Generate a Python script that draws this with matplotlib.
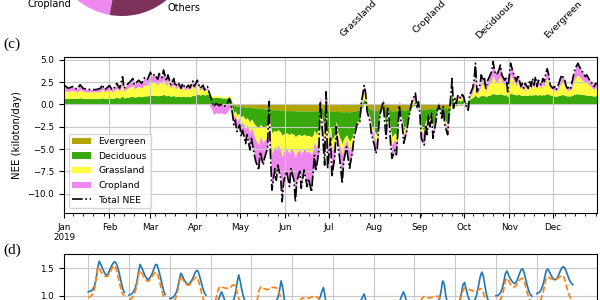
import numpy as np
import matplotlib
matplotlib.use("Agg")
import matplotlib.pyplot as plt
import matplotlib.dates as mdates
from matplotlib.ticker import MultipleLocator, FuncFormatter

# ---------------- panel (c): daily NEE 2019 (day 0 = 1 Jan), kiloton/day ----------------
days = [0, 3, 6, 9, 11, 13, 15, 19, 22, 25,
        26, 28, 31, 33, 35, 36, 38, 40, 41, 43,
        45, 47, 48, 51, 53, 55, 57, 59, 60, 62,
        64, 65, 67, 68, 70, 71, 73, 75, 76, 78,
        80, 81, 83, 85, 86, 88, 89, 91, 93, 95,
        96, 98, 99, 101, 102, 104, 106, 107, 109, 111,
        113, 114, 115, 116, 117, 118, 120, 121, 122, 124,
        125, 127, 128, 130, 131, 133, 134, 136, 137, 139,
        140, 141, 142, 144, 145, 146, 148, 149, 150, 152,
        154, 155, 157, 158, 159, 161, 162, 164, 166, 167,
        169, 170, 171, 172, 174, 175, 176, 178, 179, 180,
        182, 183, 185, 186, 187, 188, 190, 191, 193, 194,
        195, 197, 198, 200, 202, 203, 205, 206, 207, 209,
        210, 212, 213, 214, 215, 216, 218, 219, 220, 221,
        222, 223, 224, 226, 227, 228, 229, 230, 231, 232,
        234, 235, 236, 237, 238, 240, 241, 242, 243, 244,
        246, 247, 248, 249, 250, 251, 252, 254, 255, 256,
        257, 258, 259, 260, 262, 263, 264, 265, 266, 267,
        268, 269, 271, 272, 273, 274, 276, 277, 278, 279,
        280, 281, 282, 284, 285, 286, 287, 288, 289, 290,
        292, 293, 294, 295, 296, 297, 298, 299, 301, 302,
        303, 304, 305, 306, 307, 309, 310, 311, 312, 313,
        314, 315, 317, 318, 319, 320, 321, 322, 323, 324,
        326, 327, 328, 329, 330, 331, 332, 334, 335, 336,
        337, 338, 339, 340, 342, 343, 344, 345, 346, 347,
        348, 349, 351, 352, 353, 354, 355, 356, 357, 359,
        360, 361, 362, 363, 364]

total_nee = [2.16, 1.8, 2.0, 1.7, 2.2, 1.8, 1.7, 1.65, 1.65, 1.8,
             2.2, 1.65, 2.1, 1.6, 2.0, 2.35, 1.8, 3.1, 1.8, 2.2,
             2.5, 2.9, 2.2, 2.7, 2.35, 3.0, 2.8, 3.6, 3.2, 3.35,
             2.8, 3.45, 3.0, 3.85, 2.6, 3.3, 2.2, 2.9, 2.0, 2.45,
             1.8, 2.35, 1.8, 2.15, 1.85, 2.6, 2.0, 2.7, 1.8, 2.15,
             1.6, 2.0, 1.4, 0.4, -0.25, 0.1, -0.15, 0.0, -0.25, -0.1,
             0.65, 0.0, -1.0, -2.3, -1.75, -3.05, -2.3, -3.6, -2.9, -4.4,
             -3.4, -5.1, -3.8, -5.7, -6.4, -7.35, -5.3, -6.8, -6.0, -4.9,
             0.3, -5.7, -9.6, -7.2, -8.5, -6.8, -8.3, -10.9, -8.65, -7.5,
             -9.2, -7.2, -8.5, -10.9, -8.65, -7.5, -9.4, -7.35, -9.2, -8.3,
             -9.8, -7.9, -5.7, -7.5, -5.3, 0.3, -1.95, -6.8, 1.4, -7.2,
             -3.8, -8.1, -5.7, -2.5, -4.55, -5.7, -8.85, -6.4, -4.75, -6.05,
             -7.15, -5.3, -3.8, -2.3, -1.95, 0.1, 2.1, 1.25, -0.8, -1.95,
             -3.4, -4.55, -5.5, -4.9, -2.3, -1.0, 0.3, -1.95, -3.8, -0.45,
             -1.55, -4.35, -6.05, -5.1, -5.65, -3.05, -0.1, -1.75, -2.3, -4.35,
             -3.05, -1.95, -1.0, -0.1, 0.5, 1.25, -0.45, 0.3, -1.0, -3.8,
             -4.55, -2.3, -3.4, -1.2, -2.5, -1.0, -3.8, -1.95, -0.65, -0.1,
             -0.8, -1.55, -0.25, -2.3, -3.4, -1.2, 0.65, 2.9, -0.45, 0.65,
             0.1, 1.05, 0.65, 1.1, 0.85, 0.1, -0.65, 1.05, 1.4, 1.8,
             2.55, 4.6, 1.4, 2.15, 3.3, 2.7, 3.1, 1.8, 2.55, 2.9,
             3.65, 4.8, 3.85, 3.3, 3.45, 3.85, 4.4, 3.3, 2.7, 3.1,
             1.4, 3.1, 4.6, 4.0, 3.45, 2.55, 3.3, 2.7, 2.0, 2.35,
             1.8, 2.35, 1.8, 2.7, 2.0, 2.9, 2.15, 3.1, 2.0, 2.7,
             2.15, 2.9, 2.55, 3.45, 4.0, 3.3, 2.15, 1.8, 2.0, 1.6,
             2.0, 2.35, 2.9, 3.3, 2.7, 2.0, 1.8, 2.0, 1.8, 2.55,
             3.3, 4.0, 4.6, 4.2, 4.0, 3.65, 3.45, 3.1, 3.3, 2.7,
             2.55, 2.15, 2.0, 2.35, 2.3]

evergreen = [0.05, 0.05, 0.05, 0.05, 0.05, 0.05, 0.05, 0.05, 0.05, 0.05,
             0.05, 0.05, 0.05, 0.05, 0.05, 0.05, 0.05, 0.05, 0.05, 0.05,
             0.05, 0.05, 0.05, 0.05, 0.05, 0.05, 0.05, 0.05, 0.05, 0.05,
             0.05, 0.05, 0.05, 0.05, 0.05, 0.05, 0.05, 0.05, 0.05, 0.05,
             0.05, 0.05, 0.05, 0.05, 0.05, 0.05, 0.05, 0.05, 0.05, 0.05,
             0.05, 0.05, 0.05, 0.0, 0.0, 0.0, 0.0, 0.0, 0.0, 0.0,
             0.0, 0.0, -0.1, -0.15, -0.15, -0.2, -0.2, -0.25, -0.25, -0.3,
             -0.3, -0.35, -0.35, -0.4, -0.4, -0.45, -0.45, -0.5, -0.5, -0.5,
             -0.2, -0.5, -0.6, -0.6, -0.6, -0.6, -0.65, -0.7, -0.7, -0.7,
             -0.7, -0.7, -0.7, -0.75, -0.75, -0.75, -0.75, -0.75, -0.75, -0.75,
             -0.75, -0.75, -0.7, -0.75, -0.7, -0.2, -0.4, -0.75, -0.1, -0.75,
             -0.7, -0.8, -0.8, -0.6, -0.8, -0.8, -0.85, -0.85, -0.8, -0.85,
             -0.85, -0.8, -0.8, -0.7, -0.6, -0.3, 0.0, 0.0, -0.3, -0.5,
             -0.6, -0.7, -0.7, -0.7, -0.6, -0.4, -0.2, -0.5, -0.7, -0.3,
             -0.5, -0.7, -0.75, -0.7, -0.75, -0.6, -0.3, -0.5, -0.6, -0.7,
             -0.6, -0.5, -0.4, -0.3, -0.2, -0.1, -0.3, -0.2, -0.4, -0.6,
             -0.6, -0.5, -0.55, -0.4, -0.5, -0.4, -0.55, -0.45, -0.35, -0.3,
             -0.35, -0.4, -0.3, -0.45, -0.5, -0.4, -0.2, 0.0, -0.3, -0.1,
             -0.2, -0.05, -0.1, -0.05, 0.0, 0.0, -0.1, 0.0, 0.0, 0.0,
             0.05, 0.05, 0.05, 0.05, 0.05, 0.05, 0.05, 0.05, 0.05, 0.05,
             0.05, 0.05, 0.05, 0.05, 0.05, 0.05, 0.05, 0.05, 0.05, 0.05,
             0.05, 0.05, 0.05, 0.05, 0.05, 0.05, 0.05, 0.05, 0.05, 0.05,
             0.05, 0.05, 0.05, 0.05, 0.05, 0.05, 0.05, 0.05, 0.05, 0.05,
             0.05, 0.05, 0.05, 0.05, 0.05, 0.05, 0.05, 0.05, 0.05, 0.05,
             0.05, 0.05, 0.05, 0.05, 0.05, 0.05, 0.05, 0.05, 0.05, 0.05,
             0.05, 0.05, 0.05, 0.05, 0.05, 0.05, 0.05, 0.05, 0.05, 0.05,
             0.05, 0.05, 0.05, 0.05, 0.05]

deciduous = [0.65, 0.6, 0.65, 0.6, 0.7, 0.6, 0.6, 0.6, 0.6, 0.6,
             0.7, 0.6, 0.7, 0.6, 0.7, 0.75, 0.65, 0.9, 0.65, 0.75,
             0.8, 0.85, 0.75, 0.85, 0.8, 0.9, 0.9, 1.0, 0.95, 1.0,
             0.9, 1.0, 0.95, 1.1, 0.9, 1.0, 0.85, 0.95, 0.8, 0.9,
             0.8, 0.9, 0.8, 0.85, 0.8, 1.0, 0.9, 1.1, 1.0, 1.1,
             1.0, 1.1, 1.0, 0.8, 0.75, 0.8, 0.75, 0.75, 0.7, 0.7,
             0.8, 0.6, -0.4, -0.8, -0.6, -1.0, -0.8, -1.2, -1.0, -1.4,
             -1.2, -1.6, -1.3, -1.8, -2.0, -2.2, -1.8, -2.1, -2.0, -1.8,
             -0.3, -1.9, -2.6, -2.3, -2.5, -2.2, -2.5, -2.8, -2.6, -2.5,
             -2.7, -2.5, -2.7, -2.9, -2.7, -2.6, -2.8, -2.6, -2.8, -2.7,
             -2.9, -2.7, -2.2, -2.6, -2.1, -0.3, -0.8, -2.5, -0.2, -2.6,
             -1.8, -3.2, -2.6, -1.3, -2.3, -2.8, -3.6, -3.0, -2.6, -3.0,
             -3.3, -2.8, -2.2, -1.3, -1.1, -0.2, 0.6, 0.4, -0.3, -1.0,
             -1.8, -2.3, -2.6, -2.4, -1.2, -0.5, -0.1, -1.0, -1.9, -0.2,
             -0.7, -2.2, -2.9, -2.5, -2.7, -1.6, -0.1, -0.8, -1.1, -2.2,
             -1.6, -1.0, -0.5, -0.1, 0.1, 0.3, -0.2, 0.1, -0.4, -2.0,
             -2.3, -1.2, -1.8, -0.5, -1.3, -0.4, -2.0, -1.0, -0.2, 0.0,
             -0.3, -0.8, -0.05, -1.2, -1.8, -0.5, 0.3, 1.0, -0.1, 0.3,
             0.1, 0.5, 0.35, 0.55, 0.5, 0.3, 0.1, 0.6, 0.7, 0.75,
             0.85, 1.1, 0.7, 0.85, 1.0, 0.9, 1.0, 0.8, 0.9, 0.95,
             1.05, 1.2, 1.1, 1.05, 1.05, 1.1, 1.15, 1.05, 1.0, 1.05,
             0.8, 1.05, 1.2, 1.15, 1.1, 1.0, 1.1, 1.05, 0.95, 1.0,
             0.95, 1.0, 0.95, 1.05, 0.95, 1.05, 1.0, 1.1, 0.95, 1.05,
             1.0, 1.05, 1.0, 1.1, 1.15, 1.1, 1.0, 0.9, 0.9, 0.85,
             0.9, 0.95, 1.0, 1.05, 1.0, 0.9, 0.9, 0.9, 0.9, 0.95,
             1.05, 1.1, 1.15, 1.1, 1.1, 1.05, 1.05, 1.0, 1.0, 0.95,
             0.95, 0.9, 0.9, 0.9, 0.9]

grassland = [0.85, 0.8, 0.85, 0.75, 0.9, 0.8, 0.75, 0.75, 0.75, 0.8,
             0.95, 0.75, 0.9, 0.75, 0.85, 1.0, 0.8, 1.3, 0.8, 0.95,
             1.1, 1.2, 0.95, 1.1, 1.0, 1.25, 1.2, 1.6, 1.4, 1.45,
             1.2, 1.5, 1.3, 1.7, 1.1, 1.4, 0.95, 1.25, 0.85, 1.05,
             0.75, 1.0, 0.75, 0.9, 0.8, 1.1, 0.8, 1.1, 0.55, 0.7,
             0.45, 0.6, 0.3, 0.2, 0.15, 0.2, 0.15, 0.15, 0.15, 0.15,
             0.25, 0.1, -0.2, -0.5, -0.4, -0.7, -0.5, -0.8, -0.7, -1.0,
             -0.8, -1.2, -0.9, -1.4, -1.6, -1.9, -1.3, -1.7, -1.5, -1.2,
             0.0, -1.4, -2.3, -1.8, -2.0, -1.7, -2.0, -2.4, -2.0, -1.8,
             -2.1, -1.7, -1.9, -2.3, -1.9, -1.7, -2.0, -1.6, -1.9, -1.7,
             -2.0, -1.6, -1.2, -1.5, -1.1, 0.0, -0.3, -1.3, 0.1, -1.3,
             -0.5, -1.2, -0.8, -0.3, -0.6, -0.8, -1.2, -0.9, -0.6, -0.8,
             -1.0, -0.7, -0.4, -0.2, -0.1, 0.0, 0.8, 0.5, -0.1, -0.2,
             -0.4, -0.6, -0.8, -0.7, -0.2, -0.1, 0.1, -0.2, -0.5, 0.0,
             -0.1, -0.5, -0.9, -0.7, -0.8, -0.3, 0.0, -0.1, -0.2, -0.5,
             -0.3, -0.2, -0.1, 0.0, 0.1, 0.4, 0.0, 0.1, -0.1, -0.4,
             -0.5, -0.2, -0.3, -0.1, -0.2, -0.05, -0.4, -0.15, 0.0, 0.0,
             0.0, -0.1, 0.0, -0.2, -0.35, -0.1, 0.2, 1.2, 0.0, 0.2,
             0.05, 0.3, 0.2, 0.3, 0.2, 0.05, 0.0, 0.25, 0.35, 0.6,
             1.0, 1.9, 0.4, 0.8, 1.4, 1.1, 1.3, 0.6, 1.0, 1.2,
             1.6, 2.1, 1.7, 1.4, 1.5, 1.7, 1.9, 1.4, 1.1, 1.3,
             0.4, 1.3, 2.0, 1.8, 1.5, 1.0, 1.4, 1.1, 0.7, 0.9,
             0.6, 0.9, 0.6, 1.1, 0.7, 1.2, 0.8, 1.3, 0.7, 1.1,
             0.8, 1.2, 1.0, 1.5, 1.8, 1.4, 0.8, 0.6, 0.7, 0.5,
             0.7, 0.9, 1.2, 1.4, 1.1, 0.7, 0.6, 0.7, 0.6, 1.0,
             1.4, 1.8, 2.1, 1.9, 1.8, 1.6, 1.5, 1.3, 1.4, 1.1,
             1.0, 0.8, 0.7, 0.9, 0.9]

# cropland is what is left of the total once the three other classes are taken off
cropland = (np.array(total_nee) - np.array(evergreen) - np.array(deciduous)
            - np.array(grassland))

classes = ['Evergreen', 'Deciduous', 'Grassland', 'Cropland']
class_colors = ['#b3a500', '#39a80c', '#ffff40', '#ee88ee']

# ---------------- pie (top, cut by the frame) ----------------
# only the Cropland and Others labels reach into the picture
pie_labels = ['', '', '', 'Cropland', 'Others']
pie_shares = [14.0, 23.0, 20.2, 17.2, 25.6]
pie_colors = ['#b3a500', '#39a80c', '#ffff40', '#ee88ee', '#7b3159']

# ---------------- bar panel tick labels (top right) ----------------
bar_labels = ['Grassland', 'Cropland', 'Deciduous', 'Evergreen']

# ---------------- panel (d): mean diurnal cycle per month ----------------
solid_months = [
    [1.07, 1.08, 1.09, 1.12, 1.18, 1.3, 1.5, 1.63, 1.57, 1.5, 1.44, 1.39, 1.37, 1.42, 1.49, 1.55, 1.6, 1.62, 1.58, 1.5, 1.38, 1.25, 1.13, 1.06],
    [1.01, 1.02, 1.04, 1.08, 1.14, 1.25, 1.42, 1.57, 1.52, 1.45, 1.38, 1.33, 1.29, 1.31, 1.36, 1.42, 1.5, 1.57, 1.56, 1.46, 1.35, 1.22, 1.1, 1.02],
    [0.95, 0.95, 0.97, 1.0, 1.05, 1.14, 1.28, 1.41, 1.37, 1.3, 1.25, 1.22, 1.2, 1.23, 1.28, 1.34, 1.41, 1.46, 1.45, 1.36, 1.25, 1.14, 1.06, 1.01],
    [0.82, 0.8, 0.8, 0.82, 0.86, 0.92, 1.0, 1.07, 1.0, 0.92, 0.87, 0.85, 0.84, 0.85, 0.88, 0.95, 1.07, 1.25, 1.38, 1.25, 1.1, 0.98, 0.9, 0.85],
    [0.72, 0.7, 0.7, 0.72, 0.76, 0.8, 0.84, 0.85, 0.82, 0.79, 0.77, 0.76, 0.77, 0.79, 0.82, 0.86, 0.9, 0.97, 1.1, 1.27, 1.15, 0.95, 0.82, 0.76],
    [0.7, 0.68, 0.67, 0.68, 0.72, 0.77, 0.81, 0.82, 0.8, 0.77, 0.75, 0.74, 0.75, 0.77, 0.8, 0.83, 0.87, 0.92, 0.98, 1.08, 1.15, 0.98, 0.84, 0.76],
    [0.68, 0.66, 0.65, 0.66, 0.7, 0.74, 0.78, 0.79, 0.77, 0.75, 0.73, 0.72, 0.73, 0.75, 0.78, 0.81, 0.84, 0.88, 0.92, 0.98, 1.03, 0.92, 0.8, 0.73],
    [0.7, 0.68, 0.67, 0.68, 0.72, 0.77, 0.8, 0.81, 0.79, 0.77, 0.75, 0.74, 0.75, 0.77, 0.8, 0.84, 0.88, 0.93, 1.0, 1.07, 1.0, 0.88, 0.79, 0.74],
    [0.75, 0.73, 0.72, 0.73, 0.77, 0.82, 0.86, 0.87, 0.85, 0.83, 0.81, 0.8, 0.81, 0.83, 0.86, 0.9, 0.95, 1.08, 1.27, 1.22, 1.0, 0.88, 0.8, 0.77],
    [0.85, 0.84, 0.86, 0.92, 1.05, 1.2, 1.24, 1.12, 1.0, 0.93, 0.89, 0.88, 0.9, 0.95, 1.05, 1.2, 1.35, 1.43, 1.35, 1.18, 1.02, 0.92, 0.87, 0.85],
    [1.0, 1.0, 1.02, 1.06, 1.13, 1.25, 1.4, 1.45, 1.38, 1.32, 1.27, 1.24, 1.22, 1.25, 1.32, 1.4, 1.47, 1.49, 1.42, 1.3, 1.18, 1.08, 1.02, 0.99],
    [1.04, 1.05, 1.07, 1.12, 1.2, 1.32, 1.45, 1.49, 1.44, 1.38, 1.33, 1.3, 1.29, 1.32, 1.38, 1.45, 1.51, 1.53, 1.5, 1.43, 1.35, 1.28, 1.23, 1.2],
]
dashed_months = [
    [0.97, 0.98, 1.0, 1.04, 1.12, 1.3, 1.52, 1.5, 1.44, 1.4, 1.37, 1.35, 1.35, 1.38, 1.43, 1.49, 1.54, 1.55, 1.47, 1.35, 1.22, 1.1, 1.03, 1.0],
    [0.93, 0.94, 0.96, 1.0, 1.07, 1.2, 1.38, 1.47, 1.42, 1.36, 1.31, 1.28, 1.26, 1.28, 1.32, 1.36, 1.4, 1.43, 1.41, 1.32, 1.2, 1.08, 0.99, 0.94],
    [0.85, 0.86, 0.88, 0.91, 0.97, 1.08, 1.24, 1.36, 1.31, 1.26, 1.22, 1.2, 1.19, 1.21, 1.25, 1.29, 1.32, 1.34, 1.3, 1.2, 1.08, 0.97, 0.9, 0.87],
    [0.85, 0.84, 0.85, 0.9, 1.0, 1.12, 1.17, 1.16, 1.15, 1.14, 1.14, 1.13, 1.14, 1.16, 1.19, 1.2, 1.15, 1.05, 0.95, 0.88, 0.85, 0.84, 0.84, 0.85],
    [0.8, 0.79, 0.8, 0.84, 0.95, 1.1, 1.16, 1.15, 1.13, 1.12, 1.11, 1.12, 1.13, 1.15, 1.15, 1.15, 1.14, 1.1, 1.03, 0.95, 0.87, 0.82, 0.8, 0.8],
    [0.78, 0.76, 0.76, 0.78, 0.83, 0.9, 0.95, 0.96, 0.95, 0.95, 0.95, 0.96, 0.97, 0.98, 0.98, 0.98, 0.97, 0.95, 0.9, 0.86, 0.82, 0.79, 0.78, 0.78],
    [0.76, 0.74, 0.74, 0.76, 0.8, 0.85, 0.88, 0.89, 0.88, 0.88, 0.88, 0.89, 0.9, 0.9, 0.9, 0.9, 0.89, 0.87, 0.84, 0.81, 0.79, 0.77, 0.76, 0.76],
    [0.77, 0.75, 0.75, 0.77, 0.82, 0.87, 0.9, 0.9, 0.89, 0.89, 0.89, 0.9, 0.9, 0.91, 0.91, 0.9, 0.89, 0.87, 0.84, 0.81, 0.79, 0.78, 0.77, 0.77],
    [0.82, 0.8, 0.8, 0.83, 0.9, 0.96, 0.98, 0.97, 0.96, 0.96, 0.96, 0.97, 0.98, 0.98, 0.99, 0.99, 0.97, 0.92, 0.87, 0.84, 0.83, 0.82, 0.82, 0.82],
    [0.85, 0.84, 0.85, 0.9, 1.0, 1.1, 1.14, 1.13, 1.12, 1.11, 1.1, 1.09, 1.08, 1.08, 1.09, 1.11, 1.13, 1.12, 1.05, 0.95, 0.9, 0.87, 0.86, 0.85],
    [0.88, 0.88, 0.9, 0.94, 1.0, 1.12, 1.27, 1.32, 1.28, 1.22, 1.18, 1.16, 1.16, 1.19, 1.24, 1.28, 1.31, 1.32, 1.27, 1.16, 1.05, 0.96, 0.91, 0.89],
    [0.85, 0.87, 0.9, 0.96, 1.05, 1.18, 1.32, 1.35, 1.33, 1.31, 1.3, 1.29, 1.29, 1.31, 1.33, 1.35, 1.37, 1.36, 1.28, 1.17, 1.07, 0.99, 0.94, 0.91],
]

fig = plt.figure(figsize=(6, 3), dpi=100)

# pie, mostly above the frame
ax_pie = fig.add_axes([0.0575, 0.8883, 0.2917, 0.5833])
ax_pie.pie(pie_shares, labels=pie_labels, colors=pie_colors, startangle=-8,
           textprops={'fontsize': 7})

# bar panel: only its rotated category labels reach into the frame
ax_bar = fig.add_axes([340 / 600, 1 + 11 / 300, 257 / 600, 0.3])
ax_bar.set_xlim(-0.571, 3.19)
ax_bar.set_xticks(range(len(bar_labels)))
ax_bar.set_xticklabels(bar_labels, rotation=45, ha='right', fontsize=6.8)
ax_bar.set_yticks([])

# ---------------- (c) ----------------
ax = fig.add_axes([64 / 600, 0.29, 533 / 600, 0.52])
dates = np.datetime64('2019-01-01') + np.array(days)
n = len(days)
pos_base = np.zeros(n)
neg_base = np.zeros(n)
for vals, name, col in zip([evergreen, deciduous, grassland, cropland], classes, class_colors):
    vals = np.asarray(vals, dtype=float)
    pos = np.clip(vals, 0, None)
    neg = np.clip(vals, None, 0)
    ax.fill_between(dates, pos_base, pos_base + pos, color=col, lw=0, label=name)
    ax.fill_between(dates, neg_base, neg_base + neg, color=col, lw=0)
    pos_base = pos_base + pos
    neg_base = neg_base + neg
ax.plot(dates, total_nee, 'k-.', lw=1.2, label='Total NEE')

ax.set_xlim(np.datetime64('2019-01-01'), np.datetime64('2019-12-31'))
ax.set_ylim(-12.16, 5.30)
ax.yaxis.set_major_locator(MultipleLocator(2.5))
ax.xaxis.set_major_locator(mdates.MonthLocator())
ax.xaxis.set_minor_locator(mdates.WeekdayLocator(byweekday=mdates.MO))


def month_fmt(x, pos):
    d = mdates.num2date(x)
    return d.strftime('%b\n%Y') if d.month == 1 else d.strftime('%b')


ax.xaxis.set_major_formatter(FuncFormatter(month_fmt))
ax.tick_params(labelsize=6.3)
ax.grid(True, which='major', color='#c8c8c8', lw=0.8)
ax.set_ylabel('NEE (kiloton/day)', fontsize=7.3)
ax.legend(loc='lower left', fontsize=6.7, labelspacing=0.6)

# ---------------- (d) ----------------
ax_d = fig.add_axes([64 / 600, -0.3, 533 / 600, 0.4523])
for m in range(12):
    hours = 26 * m + np.arange(24)
    ax_d.plot(hours, solid_months[m], color='#1f77b4', lw=1.2)
    ax_d.plot(hours, dashed_months[m], color='#ff7f0e', lw=1.2, ls='--')
ax_d.set_xlim(-15.45, 324.45)
ax_d.set_ylim(-0.721, 1.755)
ax_d.set_xticks([26 * m for m in range(12)])
ax_d.set_xticklabels([])
ax_d.yaxis.set_major_locator(MultipleLocator(0.5))
ax_d.tick_params(labelsize=6.3)
ax_d.grid(True, color='#c8c8c8', lw=0.8)

fig.text(3 / 600, 1 - 44 / 300, '(c)', family='Liberation Serif', fontsize=11, va='center')
fig.text(3 / 600, 1 - 250 / 300, '(d)', family='Liberation Serif', fontsize=11, va='center')

fig.savefig('out.png', dpi=100)
